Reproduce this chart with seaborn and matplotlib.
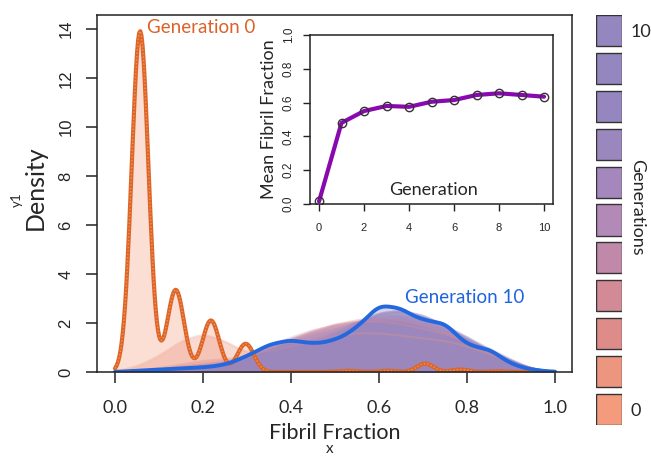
import numpy as np
import matplotlib.pyplot as plt
import seaborn as sns

# ---- data -------------------------------------------------------------
# generation 0: discrete fibril fractions and their relative frequency
gen0_fractions = [0.057, 0.138, 0.218, 0.297, 0.53, 0.62, 0.705, 0.785, 0.87]
gen0_weights = [13.9, 3.35, 2.1, 1.15, 0.05, 0.05, 0.34, 0.10, 0.03]

# later generations: relative frequency in fibril-fraction bins
fraction_bins = [0.05, 0.10, 0.15, 0.20, 0.25, 0.30, 0.35, 0.40, 0.45, 0.50,
                 0.55, 0.60, 0.65, 0.70, 0.75, 0.80, 0.85, 0.90, 0.95]
gen1_freq = [0.2, 0.6, 1.2, 1.5, 1.2, 0.7, 0.8, 1.0, 1.2, 1.4, 1.5, 1.5, 1.4, 1.3, 1.2, 1.0, 0.7, 0.4, 0.1]
gen2_freq = [0.05, 0.15, 0.3, 0.45, 0.5, 0.6, 0.9, 1.3, 1.6, 1.9, 2.0, 2.0, 1.9, 1.7, 1.5, 1.2, 0.8, 0.4, 0.1]
gen3_freq = [0.05, 0.1, 0.2, 0.3, 0.4, 0.6, 0.9, 1.3, 1.6, 1.9, 2.1, 2.2, 2.1, 1.9, 1.6, 1.2, 0.8, 0.4, 0.1]
gen4_freq = [0.05, 0.1, 0.2, 0.3, 0.4, 0.6, 1.0, 1.4, 1.7, 1.9, 2.0, 2.1, 2.1, 1.9, 1.6, 1.2, 0.8, 0.4, 0.1]
gen5_freq = [0.05, 0.1, 0.15, 0.25, 0.35, 0.55, 0.9, 1.3, 1.6, 1.8, 2.0, 2.2, 2.2, 2.0, 1.7, 1.3, 0.9, 0.45, 0.1]
gen6_freq = [0.05, 0.1, 0.15, 0.2, 0.3, 0.5, 0.9, 1.2, 1.5, 1.7, 2.0, 2.3, 2.3, 2.1, 1.8, 1.3, 0.9, 0.45, 0.1]
gen7_freq = [0.05, 0.1, 0.1, 0.2, 0.3, 0.5, 0.8, 1.1, 1.3, 1.6, 2.0, 2.4, 2.5, 2.2, 1.9, 1.4, 0.9, 0.45, 0.1]
gen8_freq = [0.05, 0.05, 0.1, 0.15, 0.25, 0.5, 0.9, 1.1, 1.2, 1.5, 1.9, 2.4, 2.5, 2.3, 1.9, 1.4, 0.95, 0.5, 0.1]
gen9_freq = [0.05, 0.1, 0.1, 0.2, 0.3, 0.6, 1.0, 1.2, 1.2, 1.4, 1.9, 2.4, 2.5, 2.3, 1.9, 1.3, 0.9, 0.45, 0.1]
gen10_freq = [0.05, 0.1, 0.15, 0.19, 0.28, 0.65, 1.15, 1.35, 1.15, 1.3, 1.8, 2.85, 2.65, 2.1, 2.1, 1.05, 1.0, 0.3, 0.08]

generations = [0, 1, 2, 3, 4, 5, 6, 7, 8, 9, 10]
mean_fibril = [0.015, 0.48, 0.55, 0.58, 0.575, 0.605, 0.615, 0.645, 0.655, 0.645, 0.635]

gen_colors = ["#F39B7C", "#EC957F", "#DE8C8A", "#D18A96", "#C189A9", "#B389B8",
              "#A488BD", "#9A87BE", "#9686BF", "#9486BF", "#9486BF"]

# ---- style ------------------------------------------------------------
sns.set_style("ticks")
plt.rcParams["font.family"] = ["Lato", "DejaVu Sans"]
plt.rcParams["axes.linewidth"] = 1.1


def kde(ax, x, w, h, **kw):
    # bandwidth given in data units -> seaborn factor
    bw = h / np.sqrt(np.cov(x, aweights=w))
    sns.kdeplot(x=x, weights=w, bw_method=bw, clip=(0, 1), cut=10,
                gridsize=400, ax=ax, **kw)


fig = plt.figure(figsize=(6.51, 4.58), dpi=100)
ax = fig.add_axes([0.149, 0.1878, 0.7296, 0.7794])

later = [gen1_freq, gen2_freq, gen3_freq, gen4_freq, gen5_freq,
         gen6_freq, gen7_freq, gen8_freq, gen9_freq, gen10_freq]

# fills
kde(ax, gen0_fractions, gen0_weights, 0.0189, fill=True, color=gen_colors[0],
    alpha=0.32, linewidth=0)
for g, freq in zip(generations[1:], later):
    kde(ax, fraction_bins, freq, 0.029, fill=True, color=gen_colors[g],
        alpha=0.35, linewidth=0)
    kde(ax, fraction_bins, freq, 0.029, color=gen_colors[g], alpha=0.3,
        linewidth=1.5)

# highlighted first / last generation
kde(ax, gen0_fractions, gen0_weights, 0.0189, color="#DD6527", linewidth=3)
kde(ax, gen0_fractions, gen0_weights, 0.0189, color="#F2935A", linewidth=1,
    linestyle=(0, (1, 1.5)))
kde(ax, fraction_bins, gen10_freq, 0.029, color="#2468E0", linewidth=2.8)

ax.text(0.073, 14.05, "Generation 0", color="#D9632A", fontsize=13.5,
        ha="left", va="center")
ax.text(0.659, 3.03, "Generation 10", color="#1E64E0", fontsize=13.5,
        ha="left", va="center")

ax.set_xlim(-0.0409, 1.0386)
ax.set_ylim(0, 14.58)
ax.set_xticks([0, 0.2, 0.4, 0.6, 0.8, 1.0])
ax.set_xticklabels(["0.0", "0.2", "0.4", "0.6", "0.8", "1.0"], fontsize=13)
ax.set_yticks(range(0, 15, 2))
ax.set_yticklabels([str(v) for v in range(0, 15, 2)], rotation=90, va="center",
                   fontsize=12, family="Liberation Sans")
ax.tick_params(axis="both", length=8, width=1.1, color="#222")
ax.tick_params(axis="x", pad=12)
ax.tick_params(axis="y", pad=9)
ax.set_xlabel("Fibril Fraction", fontsize=15.5, labelpad=5)
ax.set_ylabel("Density", fontsize=18)
ax.yaxis.set_label_coords(-0.105, 0.515)
for s in ax.spines.values():
    s.set_color("#222")
fig.text(0.507, 0.020, "x", fontsize=11, ha="center", va="center")
fig.text(0.026, 0.565, "y1", fontsize=9.5, ha="center", va="center", rotation=90)

# ---- inset: mean fibril fraction per generation -----------------------
ins = fig.add_axes([0.4762, 0.5546, 0.3733, 0.369])
sns.lineplot(x=generations, y=mean_fibril, ax=ins, color="#8A08B0",
             linewidth=3, marker="o", markersize=6, markerfacecolor="none",
             markeredgecolor="#333", markeredgewidth=1)
ins.set_xlim(-0.4, 10.4)
ins.set_ylim(0, 1)
ins.set_xticks([0, 2, 4, 6, 8, 10])
ins.set_xticklabels(["0", "2", "4", "6", "8", "10"], fontsize=8,
                    family="Liberation Sans")
ins.set_yticks([0, 0.2, 0.4, 0.6, 0.8, 1.0])
ins.set_yticklabels(["0.0", "0.2", "0.4", "0.6", "0.8", "1.0"], rotation=90,
                    va="center", fontsize=8.5, family="Liberation Sans")
ins.tick_params(axis="both", length=5, width=1, color="#222")
ins.tick_params(axis="x", pad=9)
ins.tick_params(axis="y", pad=6)
ins.set_xlabel("")
ins.set_ylabel("Mean Fibril Fraction", fontsize=13, labelpad=4)
ins.text(5.07, 0.085, "Generation", fontsize=13, ha="center", va="center")
for s in ins.spines.values():
    s.set_color("#222")

# ---- generation colour key --------------------------------------------
key = fig.add_axes([0.9155, 0.0721, 0.0399, 0.8951])
key.barh(generations, [1] * len(generations), height=0.82, color=gen_colors,
         edgecolor="#333", linewidth=1)
key.set_xlim(0, 1)
key.set_ylim(-0.41, 10.41)
key.set_xticks([])
key.yaxis.tick_right()
key.set_yticks([0, 10])
key.set_yticklabels(["0", "10"], fontsize=13)
key.tick_params(axis="y", length=0, pad=6)
key.yaxis.set_label_position("right")
key.set_ylabel("Generations", fontsize=13, rotation=270, va="center")
key.yaxis.set_label_coords(1.6, 0.53)
for s in key.spines.values():
    s.set_visible(False)

fig.savefig("out.png", dpi=100)
